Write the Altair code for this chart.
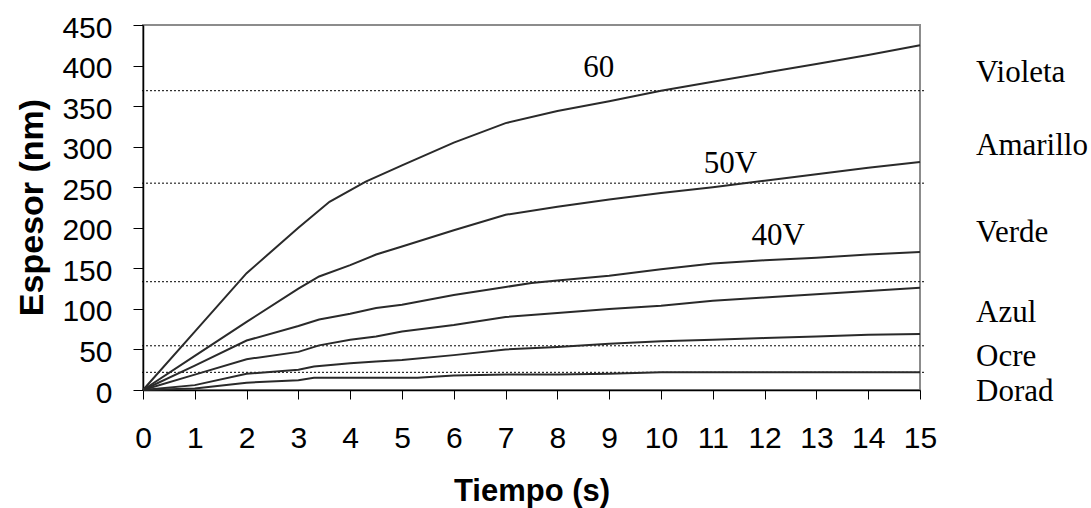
import altair as alt
import pandas as pd

# Oxide thickness (nm) against anodising time (s) for each voltage
tiempo_60 = [0, 1, 2, 3, 3.6, 4.3, 5, 6, 7, 8, 9, 10, 11, 12, 13, 14, 15]
espesor_60 = [0, 72, 144, 200, 232, 257, 277, 305, 329, 344, 356, 369, 380, 391, 402, 413, 425]

tiempo_50 = [0, 1, 2, 3, 3.4, 4, 4.5, 5, 6, 7, 8, 9, 10, 11, 12, 13, 14, 15]
espesor_50 = [0, 42, 84, 125, 140, 154, 167, 177, 197, 216, 226, 235, 243, 250, 258, 266, 274, 281]

tiempo_40 = [0, 1, 2, 3, 3.4, 4, 4.5, 5, 6, 7, 7.5, 8, 9, 10, 11, 12, 13, 14, 15]
espesor_40 = [0, 30, 61, 79, 87, 94, 101, 105, 117, 127, 132, 135, 141, 149, 156, 160, 163, 167, 170]

tiempo_30 = [0, 1, 2, 3, 3.4, 4, 4.5, 5, 6, 7, 8, 9, 10, 11, 12, 13, 14, 15]
espesor_30 = [0, 19, 38, 47, 55, 62, 66, 72, 80, 90, 95, 100, 104, 110, 114, 118, 122, 126]

tiempo_20 = [0, 1, 2, 3, 3.3, 4, 4.5, 5, 6, 7, 8, 9, 10, 11, 12, 13, 14, 15]
espesor_20 = [0, 6, 20, 25, 29, 33, 35, 37, 43, 50, 53, 57, 60, 62, 64, 66, 68, 69]

tiempo_10 = [0, 1, 2, 3, 3.3, 4, 5, 5.3, 6, 7, 8, 9, 10, 11, 12, 13, 14, 15]
espesor_10 = [0, 2, 9, 12, 15, 15, 15, 15, 18, 19, 19, 20, 22, 22, 22, 22, 22, 22]

# Thickness at which each interference colour appears
colores = ["Violeta", "Amarillo", "Verde", "Azul", "Ocre", "Dorad"]
umbrales = [369, 255, 133.5, 54.5, 21.8]
colores_y = [380, 290, 183, 84, 29, -14]

# Voltage captions written next to the curves
rotulos = ["60", "50V", "40V"]
rotulos_t = [8.8, 11.34, 12.26]
rotulos_e = [386, 267, 179]

series = [
    ("60V", tiempo_60, espesor_60),
    ("50V", tiempo_50, espesor_50),
    ("40V", tiempo_40, espesor_40),
    ("30V", tiempo_30, espesor_30),
    ("20V", tiempo_20, espesor_20),
    ("10V", tiempo_10, espesor_10),
]
curvas = pd.DataFrame(
    [{"serie": n, "t": t, "e": e} for n, ts, es in series for t, e in zip(ts, es)]
)
umbral_df = pd.DataFrame({"e": umbrales})
color_df = pd.DataFrame({"color": colores, "e": colores_y})
rotulo_df = pd.DataFrame({"texto": rotulos, "t": rotulos_t, "e": rotulos_e})

SANS = "Liberation Sans"
SERIF = "Liberation Serif"

x_scale = alt.Scale(domain=[0, 15], nice=False, zero=False)
y_scale = alt.Scale(domain=[0, 450], nice=False, zero=False)

x_axis = alt.Axis(
    values=list(range(16)),
    title="Tiempo (s)",
    grid=False,
    domainColor="#000000",
    domainWidth=1.5,
    tickColor="#000000",
    tickSize=9,
    labelFont=SANS,
    labelFontSize=30,
    labelColor="#000000",
    labelPadding=24,
    labelFlush=False,
    labelOverlap=False,
    titleFont=SANS,
    titleFontSize=31,
    titleFontWeight="bold",
    titleColor="#000000",
    titleBaseline="alphabetic",
    titleY=110,
)
y_axis = alt.Axis(
    values=list(range(0, 451, 50)),
    title="Espesor (nm)",
    grid=False,
    domainColor="#000000",
    domainWidth=1.5,
    tickColor="#000000",
    tickSize=10,
    labelFont=SANS,
    labelFontSize=30,
    labelColor="#000000",
    labelPadding=21,
    labelOffset=3,
    labelFlush=False,
    labelOverlap=False,
    titleFont=SANS,
    titleFontSize=34,
    titleFontWeight="bold",
    titleColor="#000000",
    titleBaseline="alphabetic",
    titleX=-101,
    titleY=182,
)

lineas = alt.Chart(curvas).mark_line(color="#2a2a2a", strokeWidth=2).encode(
    x=alt.X("t:Q", scale=x_scale, axis=x_axis),
    y=alt.Y("e:Q", scale=y_scale, axis=y_axis),
    detail="serie:N",
)

niveles = alt.Chart(umbral_df).mark_rule(
    color="#000000", strokeWidth=1, strokeDash=[2, 2]
).encode(
    y=alt.Y("e:Q", scale=y_scale),
    x=alt.value(-1),
    x2=alt.value(783),
)

nombres = alt.Chart(color_df).mark_text(
    align="left", baseline="alphabetic", font=SERIF, fontSize=31, color="#000000"
).encode(
    x=alt.value(833),
    y=alt.Y("e:Q", scale=y_scale),
    text="color:N",
)

voltajes = alt.Chart(rotulo_df).mark_text(
    align="center", baseline="alphabetic", font=SERIF, fontSize=31, color="#000000"
).encode(
    x=alt.X("t:Q", scale=x_scale),
    y=alt.Y("e:Q", scale=y_scale),
    text="texto:N",
)

chart = (
    alt.layer(niveles, lineas, voltajes, nombres)
    .properties(
        width=777,
        height=365,
        padding={"left": 143, "top": 25, "right": 171, "bottom": 118},
        autosize=alt.AutoSizeParams(type="none"),
        background="#ffffff",
    )
    .configure_view(stroke="#8c8c8c", strokeWidth=2)
)

chart.save("out.html", embed_options={"renderer": "svg", "actions": False})
